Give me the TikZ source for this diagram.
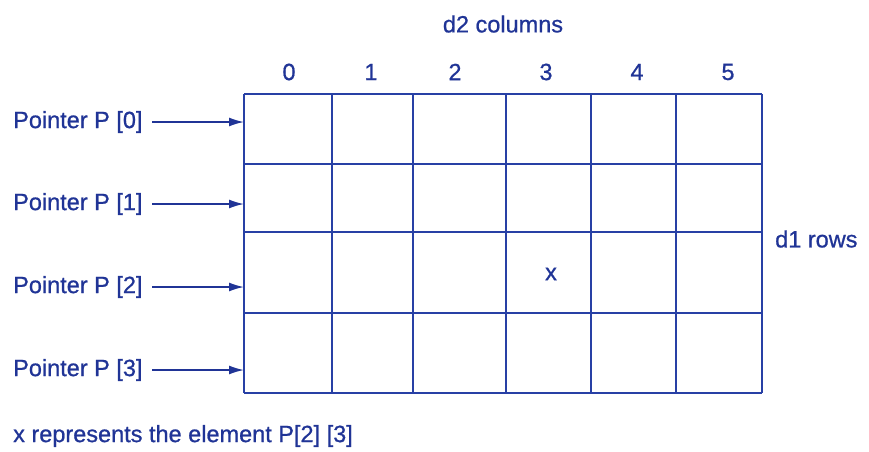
\documentclass[tikz,border=0pt]{standalone}
\usepackage{fontspec}
\setmainfont{Liberation Sans}
\newfontfamily\lblfont{Liberation Sans}[FakeBold=0.8]
\usetikzlibrary{arrows.meta}
\definecolor{ink}{RGB}{32,52,150}
\definecolor{gridc}{RGB}{40,64,165}
\tikzset{
  lbl/.style={inner sep=0pt, text=ink, font=\lblfont\fontsize{23.5}{26}\selectfont},
  gridline/.style={draw=gridc, line width=2pt},
  ptr/.style={draw=ink, line width=1.6pt, -{Latex[length=15pt,width=9pt]}}
}
\begin{document}
\begin{tikzpicture}[x=1pt,y=-1pt]
\useasboundingbox (0,0) rectangle (869,451);
% grid
\foreach \x in {244,332,413,506,591,676,762}
  \draw[gridline] (\x,94) -- (\x,393);
\foreach \y in {94,164,232,313,393}
  \draw[gridline] (244,\y) -- (762,\y);
% headers
\node[lbl] (d2) at (503,24) {d2 columns};
\node[lbl] (c0) at (289,72) {0};
\node[lbl] (c1) at (371,72) {1};
\node[lbl] (c2) at (455,72) {2};
\node[lbl] (c3) at (546,72) {3};
\node[lbl] (c4) at (637,72) {4};
\node[lbl] (c5) at (728,72) {5};
\node[lbl, anchor=west] (d1) at (775,239) {d1 rows};
\node[lbl] (xel) at (551,274) {x};
% pointers
\foreach \i/\y in {0/122,1/204,2/287,3/370}{
  \node[lbl, anchor=west] (p\i) at (13,\y) {Pointer P [\i]};
  \coordinate (s\i) at (152,\y);
  \coordinate (t\i) at (244,\y);
  \draw[ptr] (s\i) -- (t\i);
}
\node[lbl, anchor=west] (note) at (13,436) {x represents the element P[2] [3]};
\end{tikzpicture}
\end{document}
